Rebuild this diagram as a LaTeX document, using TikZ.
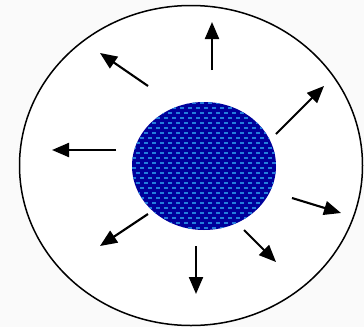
\documentclass[tikz,border=0pt]{standalone}
\usetikzlibrary{arrows.meta}
\definecolor{bgc}{RGB}{250,250,250}
\definecolor{navyc}{RGB}{0,0,155}
\definecolor{dashc}{RGB}{35,125,220}
\tikzset{
  radarrow/.style={line width=2.1pt, -{Triangle[length=17pt,width=14pt]}},
  outerell/.style={draw=black, line width=1.5pt, fill=white},
}
\begin{document}
\begin{tikzpicture}[x=1pt,y=-1pt]
\useasboundingbox (0,0) rectangle (364,327);
\fill[bgc] (0,0) rectangle (364,327);
% outer ellipse
\draw[outerell] (191,165.5) ellipse [x radius=171.5, y radius=160];
% inner blob
\coordinate (c) at (204,166);
\fill[navyc] (c) ellipse [x radius=72, y radius=64];
\begin{scope}
  \clip (c) ellipse [x radius=72, y radius=64];
  \foreach \r in {0,...,26} {
    \pgfmathsetmacro{\yy}{102+\r*5}
    \pgfmathsetmacro{\off}{mod(\r,2)*4}
    \foreach \k in {0,...,19} {
      \pgfmathsetmacro{\xx}{128+\off+\k*8}
      \fill[dashc] (\xx,\yy) rectangle ++(4.3,2);
    }
  }
\end{scope}
% arrow ends
\coordinate (a1s) at (212,70);  \coordinate (a1e) at (212,22);
\coordinate (a2s) at (148,86);  \coordinate (a2e) at (100,53);
\coordinate (a3s) at (276,134); \coordinate (a3e) at (324,86);
\coordinate (a4s) at (116,150); \coordinate (a4e) at (52,150);
\coordinate (a5s) at (292,198); \coordinate (a5e) at (341,213);
\coordinate (a6s) at (148,214); \coordinate (a6e) at (100,246);
\coordinate (a7s) at (244,230); \coordinate (a7e) at (276,262);
\coordinate (a8s) at (196,246); \coordinate (a8e) at (196,294);
\foreach \i in {1,...,8} \draw[radarrow] (a\i s) -- (a\i e);
\end{tikzpicture}
\end{document}
